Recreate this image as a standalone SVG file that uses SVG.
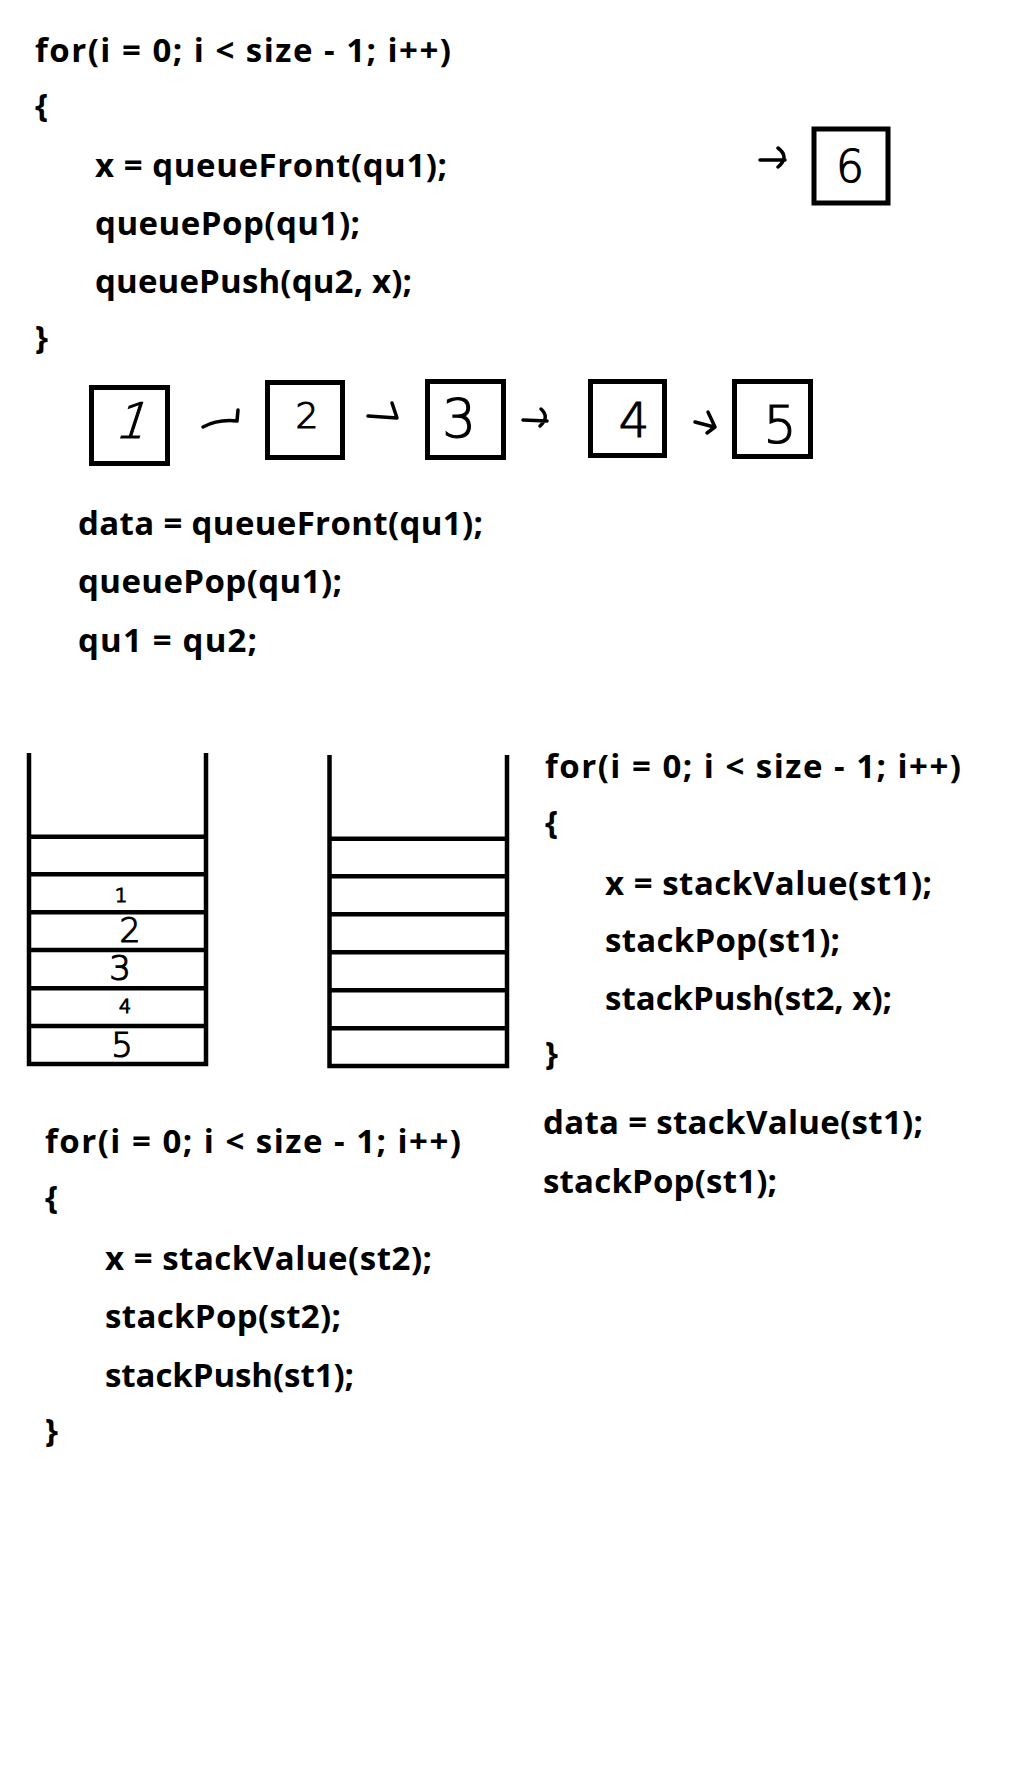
<svg xmlns="http://www.w3.org/2000/svg" width="1018" height="1776" viewBox="0 0 1018 1776">
<style>
.code{font-family:"Open Sans","Noto Sans","Liberation Sans",sans-serif;font-weight:700;font-size:33px;fill:#000}
.box{fill:none;stroke:#000;stroke-width:5}
.stk{fill:none;stroke:#000;stroke-width:4.5}
.hand{font-family:"DejaVu Sans","Liberation Sans",sans-serif;font-weight:200;fill:#000;stroke:#000;stroke-width:1.2;text-anchor:middle}
.arr{fill:none;stroke:#000;stroke-width:3.5;stroke-linecap:round;stroke-linejoin:round}
</style>
<rect width="1018" height="1776" fill="#fff"/>
<g id="code-queue-loop">
<text class="code" x="35" y="62" textLength="416" lengthAdjust="spacing">for(i = 0; i &lt; size - 1; i++)</text>
<text class="code" x="35" y="117">{</text>
<text class="code" x="95" y="177" textLength="352" lengthAdjust="spacing">x = queueFront(qu1);</text>
<text class="code" x="95" y="235" textLength="265" lengthAdjust="spacing">queuePop(qu1);</text>
<text class="code" x="95" y="293" textLength="317" lengthAdjust="spacing">queuePush(qu2, x);</text>
<text class="code" x="35" y="349">}</text>
</g>
<g id="code-queue-after">
<text class="code" x="78" y="535" textLength="405" lengthAdjust="spacing">data = queueFront(qu1);</text>
<text class="code" x="78" y="593" textLength="264" lengthAdjust="spacing">queuePop(qu1);</text>
<text class="code" x="78" y="652" textLength="179" lengthAdjust="spacing">qu1 = qu2;</text>
</g>
<g id="code-stack-loop1">
<text class="code" x="545" y="778" textLength="416" lengthAdjust="spacing">for(i = 0; i &lt; size - 1; i++)</text>
<text class="code" x="545" y="834">{</text>
<text class="code" x="605" y="895" textLength="327" lengthAdjust="spacing">x = stackValue(st1);</text>
<text class="code" x="605" y="952" textLength="235" lengthAdjust="spacing">stackPop(st1);</text>
<text class="code" x="605" y="1010" textLength="287" lengthAdjust="spacing">stackPush(st2, x);</text>
<text class="code" x="545" y="1065">}</text>
<text class="code" x="543" y="1134" textLength="380" lengthAdjust="spacing">data = stackValue(st1);</text>
<text class="code" x="543" y="1193" textLength="234" lengthAdjust="spacing">stackPop(st1);</text>
</g>
<g id="code-stack-loop2">
<text class="code" x="45" y="1153" textLength="416" lengthAdjust="spacing">for(i = 0; i &lt; size - 1; i++)</text>
<text class="code" x="45" y="1209">{</text>
<text class="code" x="105" y="1270" textLength="327" lengthAdjust="spacing">x = stackValue(st2);</text>
<text class="code" x="105" y="1328" textLength="236" lengthAdjust="spacing">stackPop(st2);</text>
<text class="code" x="105" y="1387" textLength="249" lengthAdjust="spacing">stackPush(st1);</text>
<text class="code" x="45" y="1442">}</text>
</g>
<g id="node-1"><rect class="box" x="91.5" y="387.5" width="76" height="76"/><text class="hand" x="0" y="0" font-size="49" transform="translate(129 438) skewX(-18)">1</text></g>
<g id="node-2"><rect class="box" x="267.5" y="382.5" width="75" height="75"/><text class="hand" x="307" y="428" font-size="36">2</text></g>
<g id="node-3"><rect class="box" x="427.5" y="381.5" width="76" height="76"/><text class="hand" x="459" y="437" font-size="53">3</text></g>
<g id="node-4"><rect class="box" x="590.5" y="381.5" width="74" height="74"/><text class="hand" x="634" y="437" font-size="48">4</text></g>
<g id="node-5"><rect class="box" x="734.5" y="381.5" width="76" height="75"/><text class="hand" x="780" y="443" font-size="52">5</text></g>
<g id="node-6"><rect class="box" x="814" y="129" width="74" height="74" stroke-width="4.5"/><text class="hand" x="850" y="182" font-size="44">6</text></g>
<g id="stack-1">
<path class="stk" d="M29,753 V1064 H206 V753"/>
<path class="stk" d="M29,836.7 H206 M29,874.3 H206 M29,912.3 H206 M29,950 H206 M29,988.3 H206 M29,1026 H206"/>
<text class="hand" x="121" y="902" font-size="20">1</text>
<text class="hand" x="130" y="942" font-size="33">2</text>
<text class="hand" x="120" y="980" font-size="34">3</text>
<text class="hand" x="125" y="1013" font-size="19">4</text>
<text class="hand" x="122" y="1057" font-size="34">5</text>
</g>
<g id="stack-2">
<path class="stk" d="M329.5,755 V1066 H507 V755"/>
<path class="stk" d="M329.5,838.7 H507 M329.5,876.3 H507 M329.5,914.3 H507 M329.5,952.3 H507 M329.5,990.3 H507 M329.5,1028.3 H507"/>
</g>
<g id="connectors">
<path class="arr" d="M203,427 Q218,419 237,421 L238,410"/>
<path class="arr" d="M368,416 L397,418 L392,403"/>
<path class="arr" d="M523,420 L547,421 M541,409 Q550,417 540,426"/>
<path class="arr" d="M695,422 L714,427 M708,412 L715,427 L707,433"/>
<path class="arr" d="M760,160 L785,160 M778,148 Q790,157 778,167"/>
</g>
</svg>
